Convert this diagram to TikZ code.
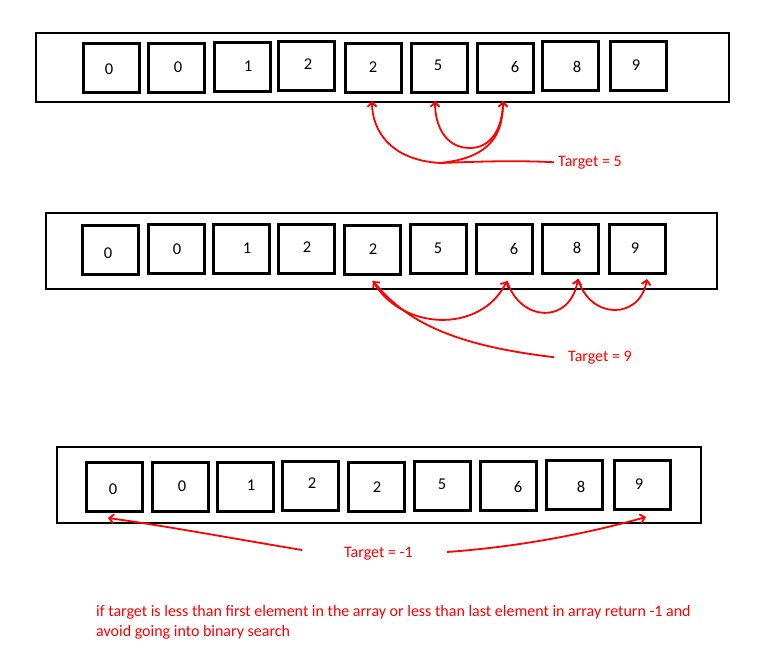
\documentclass[tikz,border=0pt]{standalone}
\usepackage{fontspec}
\setmainfont{Carlito}
\usetikzlibrary{arrows.meta}
\begin{document}
\begin{tikzpicture}[x=1pt,y=-1pt,
  frame/.style={draw=black, line width=2.2pt},
  cell/.style={draw=black, line width=3pt, inner sep=0pt, minimum width=56pt, minimum height=49pt},
  num/.style={font=\fontsize{16.5}{19}\selectfont, inner sep=0pt},
  redtxt/.style={text=red, font=\fontsize{16}{20}\selectfont, inner sep=0pt},
  arr/.style={draw=red, line width=1.8pt, -{Straight Barb[length=4.5pt,width=9pt]}},
  rline/.style={draw=red, line width=1.8pt},
  ]
\useasboundingbox (0,0) rectangle (766,664);
\fill[white] (0,0) rectangle (766,664);

% ---------- array 1 ----------
\draw[frame] (36,33) rectangle (729,102);
\foreach \n/\cx/\cy/\lx/\ly/\v in {1/111/68/109/69/0, 2/176/67.5/178/67/0, 3/242.5/67/248/66/1,
  4/306.5/66/308/64/2, 5/373/68/373/67/2, 6/439/67.5/438/65/5, 7/505/67.5/515/67/6,
  8/570.5/65.5/577/67/8, 9/638.5/66/636/65/9}{
  \node[cell] (a\n) at (\cx,\cy) {};
  \node[num] (na\n) at (\lx,\ly) {\v};
}
\coordinate (pa5) at (372,101);
\coordinate (pa6) at (435,101);
\coordinate (pa7) at (503,101);
\coordinate (ja) at (440,163);
\node[redtxt, anchor=base west] (ta) at (558,166) {Target = 5};
\draw[rline] ([xshift=-4pt]ta.west) .. controls (510,160) and (470,162) .. (ja);
\draw[arr] (ja) .. controls (390,160) and (372,130) .. (pa5);
\draw[arr] (ja) .. controls (490,158) and (503,135) .. (pa7);
\draw[arr] (pa7) .. controls (503,130) and (490,148) .. (470,148) .. controls (445,148) and (435,125) .. (pa6);

% ---------- array 2 ----------
\draw[frame] (46,213) rectangle (717,289);
\foreach \n/\cx/\cy/\lx/\ly/\v in {1/110.5/249.5/108/253/0, 2/176.5/249/177/249/0, 3/241.5/249/247/248/1,
  4/306.5/248.5/307/247/2, 5/372.5/249.5/373/249/2, 6/438/249/438/248/5, 7/504/249/514/249/6,
  8/570.5/248.5/577/248/8, 9/637/248.5/635/248/9}{
  \node[cell] (b\n) at (\cx,\cy) {};
  \node[num] (nb\n) at (\lx,\ly) {\v};
}
\coordinate (pb5) at (373,281);
\coordinate (pb7) at (507,281);
\coordinate (pb8) at (578,279);
\coordinate (pb9) at (647,279);
\node[redtxt, anchor=base west] (tb) at (568,361) {Target = 9};
\draw[arr] ([xshift=-14pt]tb.west) .. controls (450,345) and (405,320) .. (pb5);
\draw[arr] (pb5) .. controls (400,330) and (480,335) .. (pb7);
\draw[arr] (pb7) .. controls (520,322) and (570,325) .. (pb8);
\draw[arr] (pb8) .. controls (590,320) and (640,320) .. (pb9);

% ---------- array 3 ----------
\draw[frame] (57,447) rectangle (701,523);
\foreach \n/\cx/\cy/\lx/\ly/\v in {1/114/487/113/489/0, 2/180.5/487/182/486/0, 3/245.5/487/251/485/1,
  4/310/486/312/483/2, 5/376.5/487/377/487/2, 6/442.5/485.5/442/484/5, 7/508/485.5/518/487/6,
  8/574/484.5/581/487/8, 9/642/485/639/484/9}{
  \node[cell] (c\n) at (\cx,\cy) {};
  \node[num] (nc\n) at (\lx,\ly) {\v};
}
\coordinate (pc1) at (108,518);
\coordinate (pc9) at (646,517);
\coordinate (lc) at (302,550);
\coordinate (rc) at (447,552);
\node[redtxt, anchor=base west] (tc) at (344,557) {Target = -1};
\draw[arr] (lc) .. controls (230,538) and (160,525) .. (pc1);
\draw[arr] (rc) .. controls (530,546) and (600,530) .. (pc9);

% ---------- note ----------
\node[redtxt, anchor=base west, align=left] (note) at (96,636)
  {if target is less than first element in the array or less than last element in array return -1 and\\avoid going into binary search};
\end{tikzpicture}
\end{document}
